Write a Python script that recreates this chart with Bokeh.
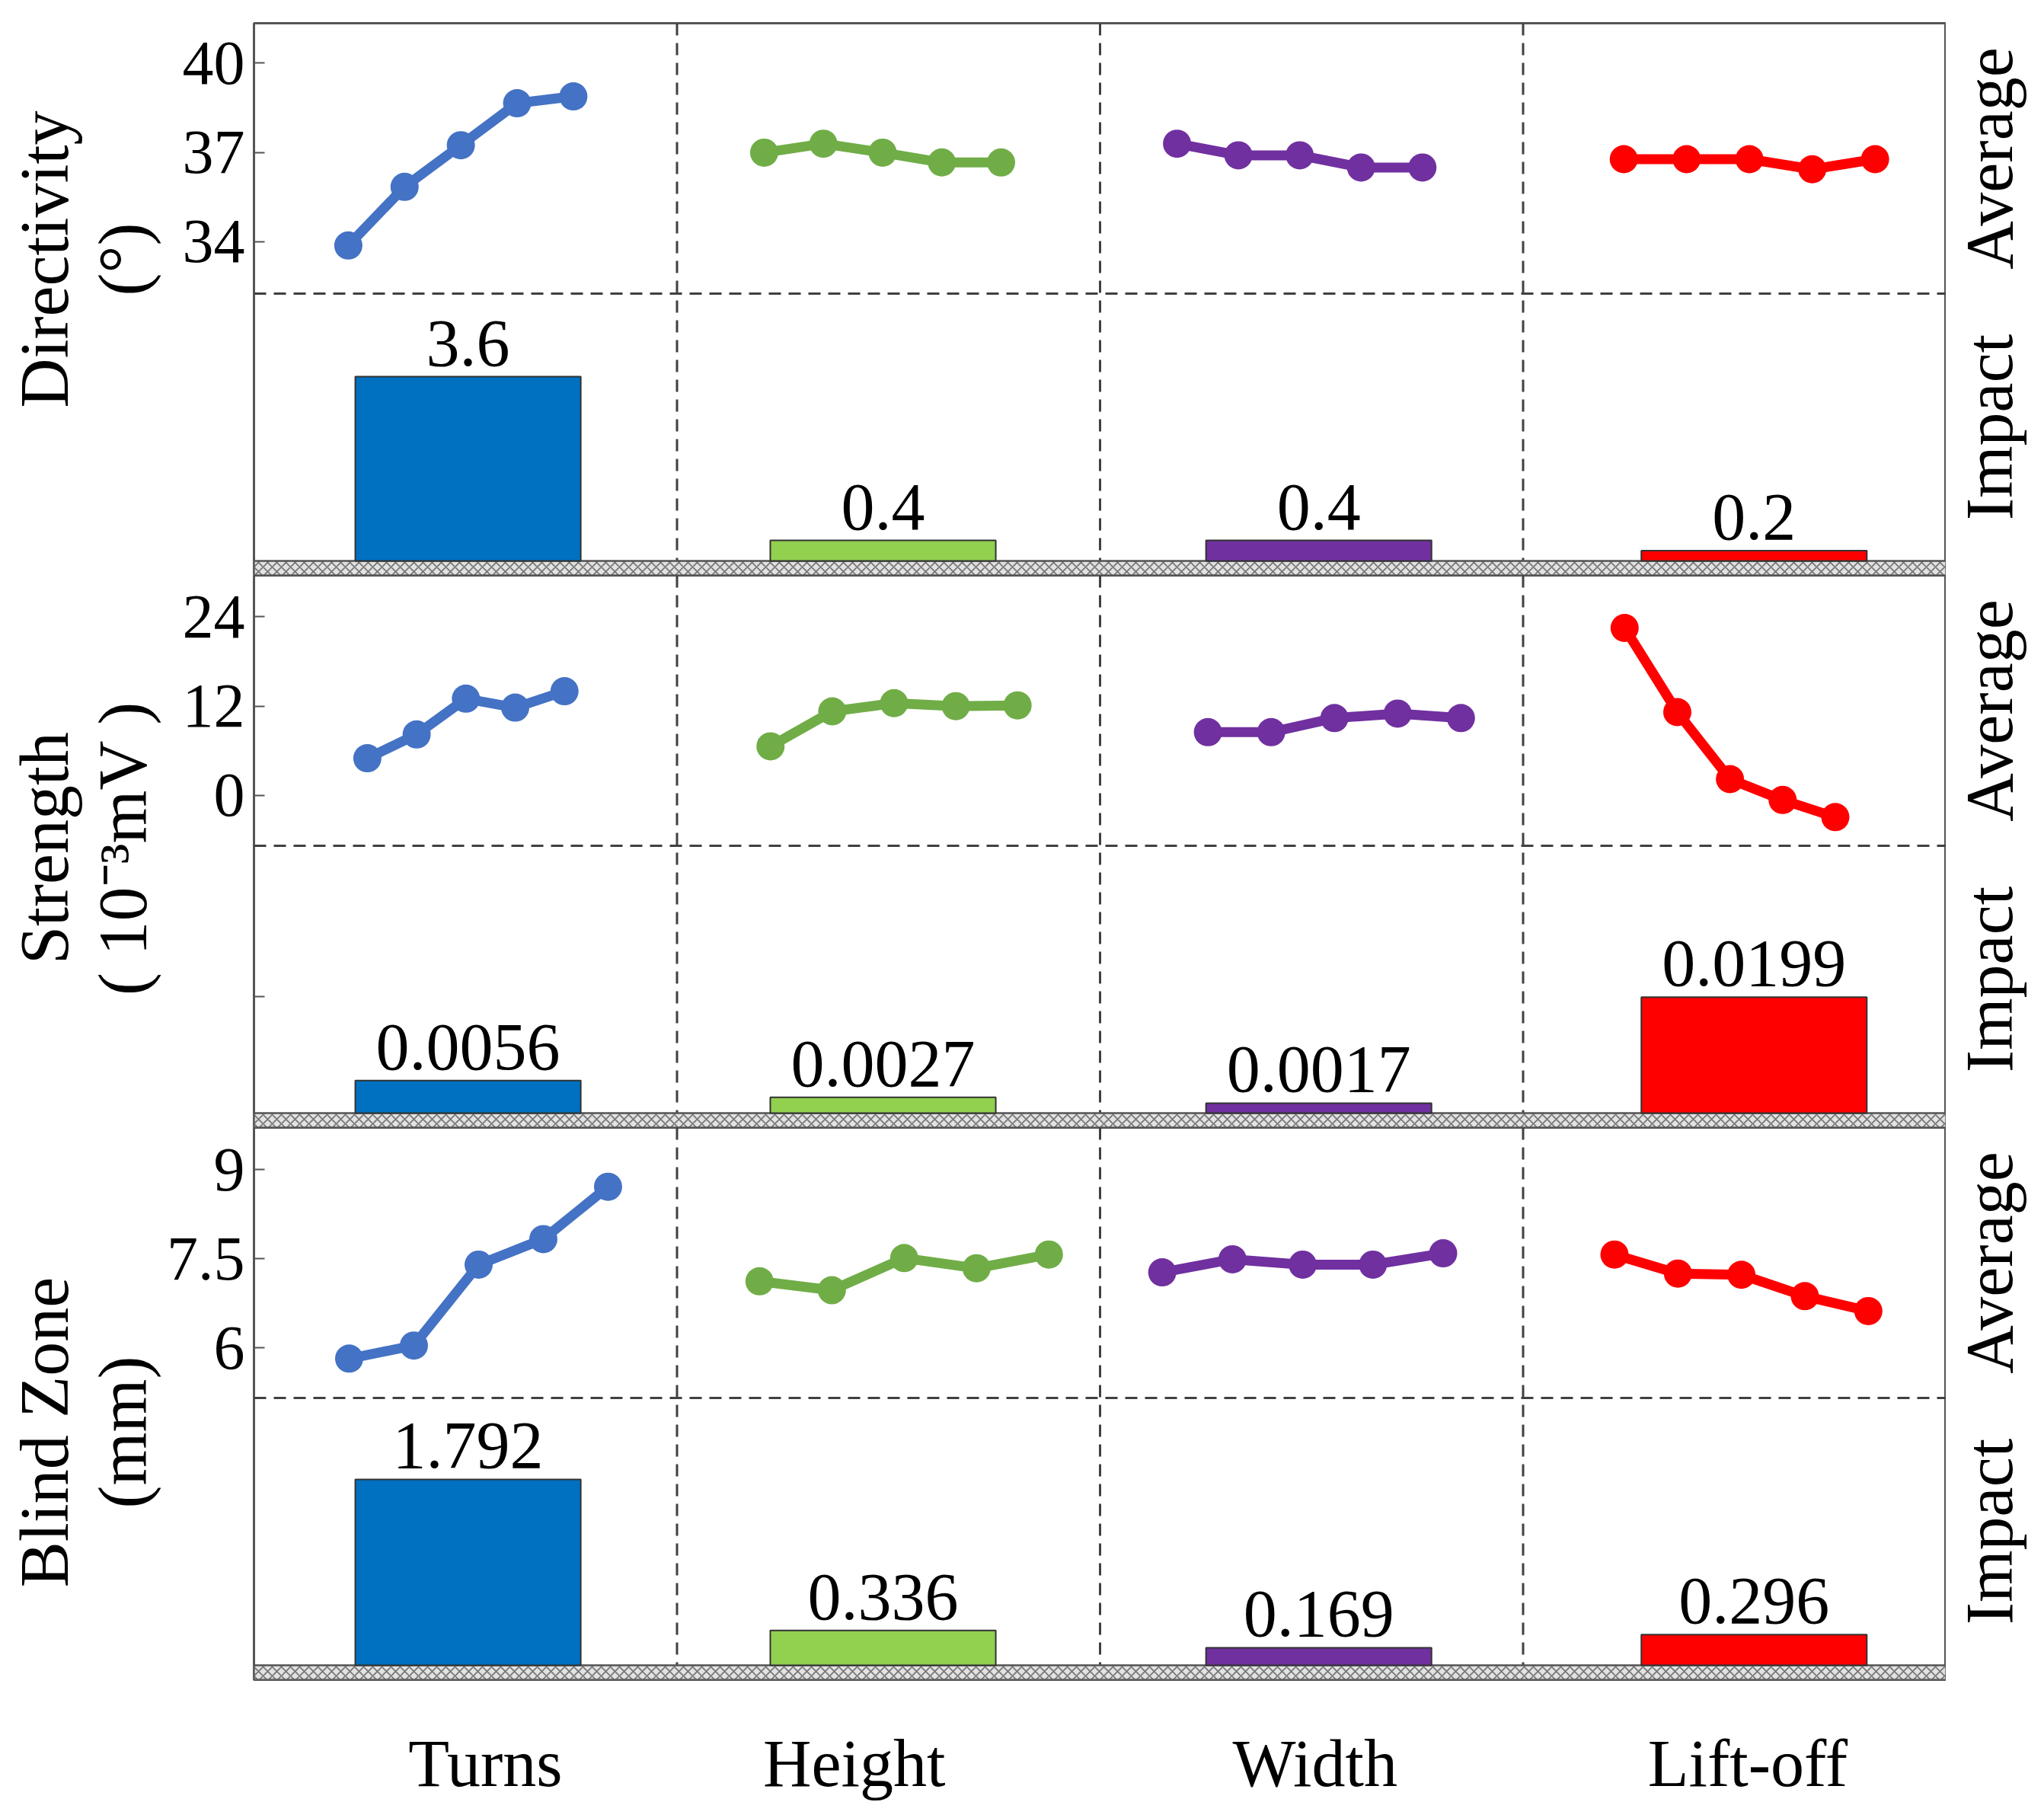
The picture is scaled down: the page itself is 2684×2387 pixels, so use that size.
# -*- coding: utf-8 -*-
# 各因素对指向性、强度、盲区的影响：上半区为各水平均值，下半区为极差(影响)
import math

from bokeh.plotting import figure
from bokeh.layouts import column, row
from bokeh.models import Range1d, FixedTicker, Span, ColumnDataSource
from bokeh.core.properties import value
from bokeh.embed import file_html
from bokeh.resources import INLINE

# 数据
factors = ["Turns", "Height", "Width", "Lift-off"]
sections = ["Average", "Impact"]
levels = [0, 1, 2, 3, 4]

directivity_avg = [
    [33.87, 35.84, 37.24, 38.65, 38.88],
    [36.99, 37.29, 36.99, 36.66, 36.66],
    [37.29, 36.90, 36.90, 36.49, 36.49],
    [36.77, 36.77, 36.77, 36.43, 36.77],
]
directivity_impact = [3.6, 0.4, 0.4, 0.2]
directivity_text = ["3.6", "0.4", "0.4", "0.2"]

strength_avg = [
    [5.0, 8.2, 13.0, 11.8, 14.0],
    [6.6, 11.3, 12.4, 12.0, 12.1],
    [8.5, 8.5, 10.4, 11.0, 10.4],
    [22.5, 11.2, 2.2, -0.6, -2.9],
]
strength_impact = [0.0056, 0.0027, 0.0017, 0.0199]
strength_text = ["0.0056", "0.0027", "0.0017", "0.0199"]

blind_avg = [
    [5.82, 6.04, 7.40, 7.83, 8.71],
    [7.12, 6.97, 7.51, 7.34, 7.57],
    [7.27, 7.49, 7.40, 7.40, 7.59],
    [7.57, 7.25, 7.23, 6.87, 6.62],
]
blind_impact = [1.792, 0.336, 0.169, 0.296]
blind_text = ["1.792", "0.336", "0.169", "0.296"]

# 样式与布局
FONT = "Liberation Serif"
FRAME_W, FRAME_H = 2222, 725
SPLIT = 355          # 均值区高度(px)
HATCH = 19           # 底部阴影带高度(px)
LABEL_W = 213        # 左侧标题区宽度
LEFT_AX = 120        # 刻度标签区宽度
SIDE_W = 2676 - LABEL_W - LEFT_AX - FRAME_W
SIDE_GAP = 57        # 右侧文字中心到边框的距离(px)
TOP = 30
BOTTOM = 160
TEXT_PAD = 44        # 柱顶到数值文字中心(px)

line_colors = ["#4472C4", "#70AD47", "#7030A0", "#FF0000"]
bar_colors = ["#0070C0", "#92D050", "#7030A0", "#FF0000"]
bar_pos = [0.506, 0.487, 0.517, 0.546]
bar_w = 0.533
label_pos = [0.547, 1.419, 2.508, 3.531]
frame_color = "#555555"
dash_color = "#404040"

panels = [
    dict(avg=directivity_avg, imp=directivity_impact, txt=directivity_text,
         ylabel=["Directivity", "(°)"], label_y=310, ticks=[34, 37, 40],
         ref_val=40, ref_px=52.3, ppu=39.07, imp_ppu=67.2, extra_tick=None,
         pts=[(0.223, 0.133), (0.206, 0.140), (0.182, 0.145), (0.238, 0.1485)]),
    dict(avg=strength_avg, imp=strength_impact, txt=strength_text,
         ylabel=["Strength", "( 10⁻³mV )"], label_y=358, ticks=[0, 12, 24],
         ref_val=24, ref_px=54.3, ppu=9.779, imp_ppu=7650, extra_tick=0.02,
         pts=[(0.268, 0.1165), (0.221, 0.146), (0.255, 0.1495), (0.240, 0.1245)]),
    dict(avg=blind_avg, imp=blind_impact, txt=blind_text,
         ylabel=["Blind Zone", "(mm)"], label_y=400, ticks=[6, 7.5, 9],
         ref_val=9, ref_px=55, ppu=78.1, imp_ppu=136.2, extra_tick=None,
         pts=[(0.225, 0.153), (0.195, 0.171), (0.147, 0.166), (0.216, 0.150)]),
]


def text_fig(width, top, bottom):
    # 仅放文字的窄图，y 轴按像素自上而下
    f = figure(frame_width=width, frame_height=FRAME_H,
               x_range=Range1d(0, width), y_range=Range1d(FRAME_H, 0),
               output_backend="svg", toolbar_location=None, title=None,
               x_axis_location=None, y_axis_location=None,
               min_border_left=0, min_border_right=0,
               min_border_top=top, min_border_bottom=bottom)
    f.grid.grid_line_color = None
    f.outline_line_color = None
    f.background_fill_color = "white"
    f.border_fill_color = "white"
    return f


def make_panel(cfg, first=False, last=False):
    hi = cfg["ref_val"] + cfg["ref_px"] / cfg["ppu"]
    lo = hi - FRAME_H / cfg["ppu"]
    imp_lo = -HATCH / cfg["imp_ppu"]
    imp_hi = imp_lo + FRAME_H / cfg["imp_ppu"]
    top = TOP if first else 0
    bottom = BOTTOM if last else 0

    p = figure(frame_width=FRAME_W, frame_height=FRAME_H,
               x_range=Range1d(0, 4), y_range=Range1d(lo, hi),
               output_backend="svg", toolbar_location=None, title=None,
               x_axis_location="below" if last else None,
               min_border_left=LEFT_AX, min_border_right=0,
               min_border_top=top, min_border_bottom=bottom)
    p.extra_y_ranges = {"imp": Range1d(imp_lo, imp_hi)}
    p.grid.grid_line_color = None
    p.outline_line_color = frame_color
    p.outline_line_width = 3
    p.background_fill_color = "white"
    p.border_fill_color = "white"

    # 左轴刻度
    ticks = list(cfg["ticks"])
    overrides = {}
    if cfg["extra_tick"] is not None:
        t = round(lo + (HATCH + cfg["extra_tick"] * cfg["imp_ppu"]) / cfg["ppu"], 4)
        ticks.append(t)
        overrides[t] = ""
    ya = p.yaxis[0]
    ya.ticker = FixedTicker(ticks=ticks)
    ya.major_label_overrides = overrides
    ya.axis_line_color = None
    ya.major_tick_in = 14
    ya.major_tick_out = 0
    ya.major_tick_line_color = frame_color
    ya.major_tick_line_width = 2
    ya.minor_tick_line_color = None
    ya.major_label_standoff = 12
    ya.major_label_text_font = FONT
    ya.major_label_text_font_size = "82px"
    ya.major_label_text_color = "black"

    # 分隔虚线
    for k in (1, 2, 3):
        p.add_layout(Span(location=k, dimension="height", line_color=dash_color,
                          line_width=3, line_dash="16 10", level="underlay"))
    p.add_layout(Span(location=(FRAME_H - HATCH - SPLIT) / cfg["imp_ppu"],
                      dimension="width", y_range_name="imp", line_color=dash_color,
                      line_width=3, line_dash="16 10", level="underlay"))

    # 底部阴影带
    p.quad(left=0, right=4, bottom=imp_lo, top=0, y_range_name="imp",
           fill_color="#e2e2e2", hatch_pattern="x", hatch_color="#777777",
           hatch_scale=12, hatch_weight=1.8, line_color=frame_color, line_width=2.5)

    # 均值折线
    for j in range(4):
        x0, dx = cfg["pts"][j]
        xs = [j + x0 + dx * l for l in levels]
        ys = cfg["avg"][j]
        p.line(xs, ys, line_width=13, line_color=line_colors[j])
        p.scatter(xs, ys, size=37, fill_color=line_colors[j], line_color=None)

    # 影响柱
    src = ColumnDataSource(dict(
        x=[j + bar_pos[j] for j in range(4)],
        top=cfg["imp"],
        ty=[v + TEXT_PAD / cfg["imp_ppu"] for v in cfg["imp"]],
        color=bar_colors,
        txt=cfg["txt"],
    ))
    p.vbar(x="x", width=bar_w, top="top", bottom=0, y_range_name="imp",
           fill_color="color", line_color="#333333", line_width=2, source=src)
    p.text(x="x", y="ty", text="txt", y_range_name="imp", source=src,
           text_font=value(FONT), text_font_size="88px", text_color="black",
           text_align="center", text_baseline="middle")

    if last:
        xa = p.xaxis[0]
        xa.ticker = FixedTicker(ticks=label_pos)
        xa.major_label_overrides = {pos: name for pos, name in zip(label_pos, factors)}
        xa.axis_line_color = None
        xa.major_tick_line_color = None
        xa.minor_tick_line_color = None
        xa.major_label_standoff = 55
        xa.major_label_text_font = FONT
        xa.major_label_text_font_size = "88px"
        xa.major_label_text_color = "black"

    # 左侧纵轴标题(两行)
    lf = text_fig(LABEL_W, top, bottom)
    lf.text(x=[58, 161], y=[cfg["label_y"], cfg["label_y"]], text=cfg["ylabel"],
            angle=math.pi / 2, text_font=value(FONT), text_font_size="90px",
            text_color="black", text_align="center", text_baseline="middle")

    # 右侧 Average / Impact
    sf = text_fig(SIDE_W, top, bottom)
    sf.text(x=[SIDE_GAP, SIDE_GAP], y=[SPLIT / 2, (SPLIT + FRAME_H - HATCH) / 2],
            text=sections, angle=math.pi / 2, text_font=value(FONT),
            text_font_size="88px", text_color="black",
            text_align="center", text_baseline="middle")
    return row(lf, p, sf, spacing=0)


rows = [make_panel(cfg, first=(i == 0), last=(i == 2)) for i, cfg in enumerate(panels)]
layout = column(*rows, spacing=0)

open("out.html", "w").write(file_html(layout, INLINE))
